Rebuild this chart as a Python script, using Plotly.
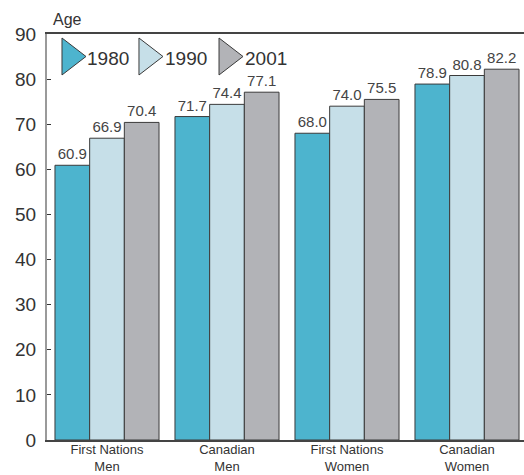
import plotly.graph_objects as go

categories = ["First Nations<br>Men", "Canadian<br>Men", "First Nations<br>Women", "Canadian<br>Women"]
years = ["1980", "1990", "2001"]
values_1980 = [60.9, 71.7, 68.0, 78.9]
values_1990 = [66.9, 74.4, 74.0, 80.8]
values_2001 = [70.4, 77.1, 75.5, 82.2]
colors = ["#4DB4CE", "#C6DFE8", "#B2B3B7"]
y_ticks = [0, 10, 20, 30, 40, 50, 60, 70, 80, 90]

FONT = "Liberation Sans, Arial, sans-serif"
TXT = "#333333"

fig = go.Figure()
for yr, vals, col in zip(years, [values_1980, values_1990, values_2001], colors):
    fig.add_trace(go.Bar(
        x=categories, y=vals, name=yr,
        marker=dict(color=col, line=dict(color="#3a3a3a", width=1)),
        text=[f"{v:.1f}" for v in vals], textposition="outside",
        textfont=dict(family=FONT, size=15, color="#444444"),
        constraintext="none", cliponaxis=False, showlegend=False,
    ))

# custom legend (triangle markers) on an overlay axis
leg_x = [0.0482, 0.2096, 0.3774]
leg_tx = [0.0797, 0.2432, 0.4109]
leg_y = 0.9446
for yr, col, lx in zip(years, colors, leg_x):
    fig.add_trace(go.Scatter(
        x=[lx], y=[leg_y], xaxis="x2", yaxis="y2", mode="markers",
        marker=dict(symbol="triangle-right", size=32, color=col,
                    line=dict(color="#3a3a3a", width=1)),
        showlegend=False, hoverinfo="skip", cliponaxis=False,
    ))
for yr, tx in zip(years, leg_tx):
    fig.add_annotation(x=tx, y=leg_y - 0.004, xref="paper", yref="paper", text=yr,
                       showarrow=False, xanchor="left", yanchor="middle",
                       font=dict(family=FONT, size=19, color=TXT))

fig.add_annotation(x=0.008, y=1.0, xref="paper", yref="paper", text="Age",
                   showarrow=False, xanchor="left", yanchor="bottom", yshift=4,
                   font=dict(family=FONT, size=16, color=TXT))

fig.update_layout(
    width=524, height=475,
    margin=dict(l=47, r=0, t=34, b=35, autoexpand=False),
    paper_bgcolor="white", plot_bgcolor="white",
    barmode="group", bargap=0.133, bargroupgap=0,
    font=dict(family=FONT, color=TXT),
    xaxis=dict(range=[-0.5, 3.475], showline=True, linecolor="#444444", linewidth=1.5,
               mirror=True, ticks="", showgrid=False, automargin=False,
               ticklabelstandoff=-3,
               tickfont=dict(family=FONT, size=13, color=TXT)),
    yaxis=dict(range=[0, 90], tickvals=y_ticks, showgrid=False, zeroline=False,
               showline=True, linecolor="#9a9a9a", linewidth=2, automargin=False,
               ticks="inside", ticklen=4, tickcolor="#333333", tickwidth=1,
               ticklabelstandoff=5,
               tickfont=dict(family=FONT, size=19, color=TXT)),
    xaxis2=dict(overlaying="x", range=[0, 1], visible=False, domain=[0, 1]),
    yaxis2=dict(overlaying="y", range=[0, 1], visible=False),
)

fig.write_html("out.html", config={"displayModeBar": False},
               post_script="document.body.style.margin='0px';document.body.style.overflow='hidden';")
